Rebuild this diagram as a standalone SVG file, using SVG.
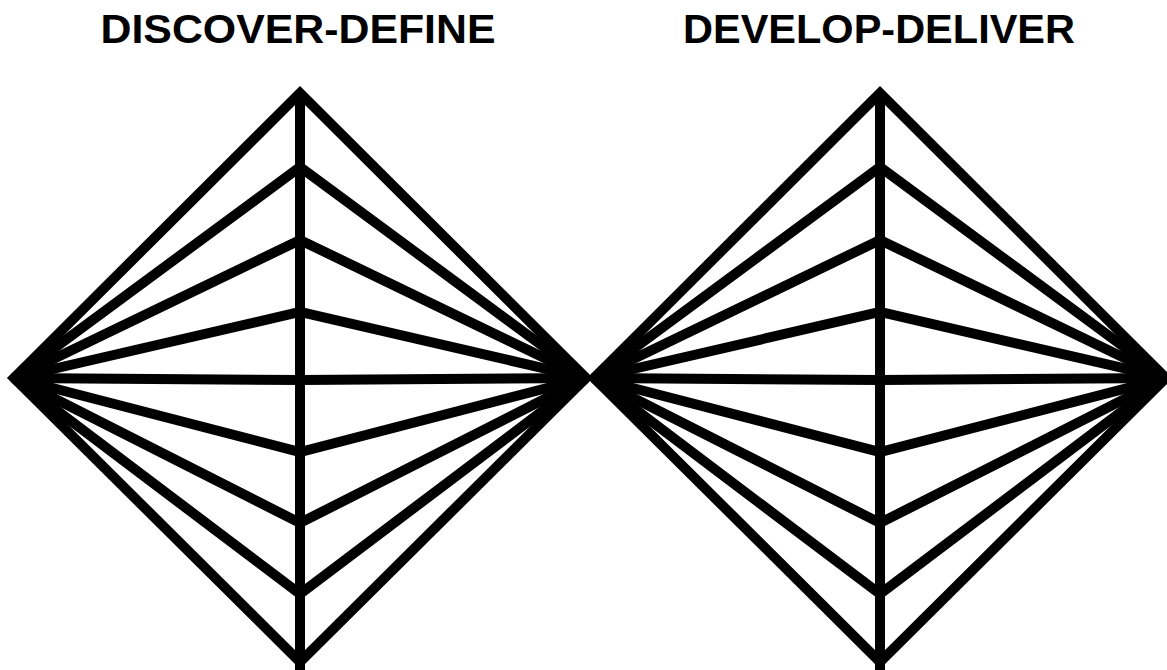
<svg xmlns="http://www.w3.org/2000/svg" width="1167" height="670" viewBox="0 0 1167 670">
  <style>
    .ln { fill: none; stroke: #000; stroke-width: 10; stroke-linejoin: miter; stroke-miterlimit: 10; stroke-linecap: butt; }
    .title { font-family: "Liberation Sans", Arial, sans-serif; font-weight: 700; font-size: 41px; fill: #000; text-anchor: middle; }
  </style>
  <rect width="1167" height="670" fill="#fff"/>
  <g id="title-left"><text class="title" x="298" y="43" textLength="395" lengthAdjust="spacingAndGlyphs">DISCOVER-DEFINE</text></g>
  <g id="title-right"><text class="title" x="879" y="43" textLength="392" lengthAdjust="spacingAndGlyphs">DEVELOP-DELIVER</text></g>
  <g id="diamond-left">
    <line class="ln" x1="300" y1="93" x2="300" y2="670"/>
    <polyline class="ln" points="14,378 300,167 586,378"/>
    <polyline class="ln" points="14,378 300,240 586,378"/>
    <polyline class="ln" points="14,378 300,312 586,378"/>
    <polyline class="ln" points="14,378 300,380 586,378"/>
    <polyline class="ln" points="14,378 300,452 586,378"/>
    <polyline class="ln" points="14,378 300,523 586,378"/>
    <polyline class="ln" points="14,378 300,594 586,378"/>
    <polygon class="ln" points="14,378 300,93 586,378 300,662"/>
  </g>
  <g id="diamond-right">
    <line class="ln" x1="880" y1="93" x2="880" y2="670"/>
    <polyline class="ln" points="594,378 880,167 1166,378"/>
    <polyline class="ln" points="594,378 880,240 1166,378"/>
    <polyline class="ln" points="594,378 880,312 1166,378"/>
    <polyline class="ln" points="594,378 880,380 1166,378"/>
    <polyline class="ln" points="594,378 880,452 1166,378"/>
    <polyline class="ln" points="594,378 880,523 1166,378"/>
    <polyline class="ln" points="594,378 880,594 1166,378"/>
    <polygon class="ln" points="594,378 880,93 1166,378 880,662"/>
  </g>
</svg>
